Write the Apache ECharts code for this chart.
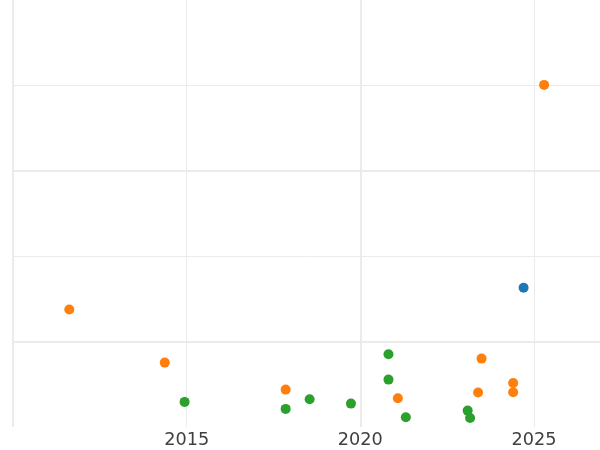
<!DOCTYPE html>
<html>
<head>
<meta charset="utf-8">
<script src="https://cdn.jsdelivr.net/npm/echarts@6/dist/echarts.min.js"></script>
<style>html,body{margin:0;padding:0;background:#fff}#c{width:600px;height:450px}</style>
</head>
<body>
<div id="c"></div>
<script>
// Data (x = year, y = unitless value)
const blueX = [2024.70];
const blueY = [0.63];
const orangeX = [2011.62, 2014.37, 2017.85, 2021.08, 2023.49, 2023.39, 2024.40, 2024.40, 2025.29];
const orangeY = [0.375, -0.246, -0.562, -0.664, -0.199, -0.597, -0.484, -0.593, 3.006];
const greenX = [2014.94, 2017.85, 2018.54, 2019.73, 2020.81, 2020.81, 2021.31, 2023.09, 2023.16];
const greenY = [-0.706, -0.788, -0.675, -0.726, -0.148, -0.445, -0.886, -0.808, -0.894];
const xTickLabels = ['2015', '2020', '2025'];

const zip = (xs, ys) => xs.map((x, i) => [x, ys[i]]);
const chart = echarts.init(document.getElementById('c'), null, {renderer: 'canvas'});
const gridColor = '#ebebeb';
const xMin = 2010, xMax = 2026.9, yMin = -1, yMax = 4;
function mkSeries(name, xs, ys, color) {
  return {
    name, type: 'scatter', data: zip(xs, ys), symbolSize: 10,
    itemStyle: {color, opacity: 1}, xAxisIndex: 0, yAxisIndex: 0,
    emphasis: {disabled: true}, z: 5
  };
}
chart.setOption({
  animation: false,
  backgroundColor: '#ffffff',
  grid: {left: 13, right: 0, top: 0, bottom: 23, containLabel: false},
  xAxis: [
    {
      type: 'value', min: xMin, max: xMax, interval: 5,
      axisLine: {show: false}, axisTick: {show: false},
      axisLabel: {
        show: true, margin: 4, color: '#404040', fontSize: 17.7, fontFamily: 'DejaVu Sans',
        showMinLabel: false, showMaxLabel: false,
        formatter: v => { const s = String(Math.round(v)); return xTickLabels.includes(s) ? s : ''; }
      },
      splitLine: {show: true, showMaxLine: false, lineStyle: {color: gridColor, width: 1}}
    },
    {
      type: 'value', min: xMin, max: xMax, interval: 10, position: 'bottom',
      axisLine: {show: false}, axisTick: {show: false}, axisLabel: {show: false},
      splitLine: {show: true, showMaxLine: false, lineStyle: {color: gridColor, width: 2}}
    }
  ],
  yAxis: [
    {
      type: 'value', min: yMin, max: yMax, interval: 1,
      axisLine: {show: false}, axisTick: {show: false}, axisLabel: {show: false},
      splitLine: {show: true, showMinLine: false, showMaxLine: false, lineStyle: {color: gridColor, width: 1}}
    },
    {
      type: 'value', min: yMin, max: yMax, splitNumber: 3,
      axisLine: {show: false}, axisTick: {show: false}, axisLabel: {show: false},
      splitLine: {show: true, showMinLine: false, showMaxLine: false, lineStyle: {color: gridColor, width: 2}}
    }
  ],
  series: [
    mkSeries('blue', blueX, blueY, '#1f77b4'),
    mkSeries('orange', orangeX, orangeY, '#ff7f0e'),
    mkSeries('green', greenX, greenY, '#2ca02c')
  ]
});
</script>
</body>
</html>
